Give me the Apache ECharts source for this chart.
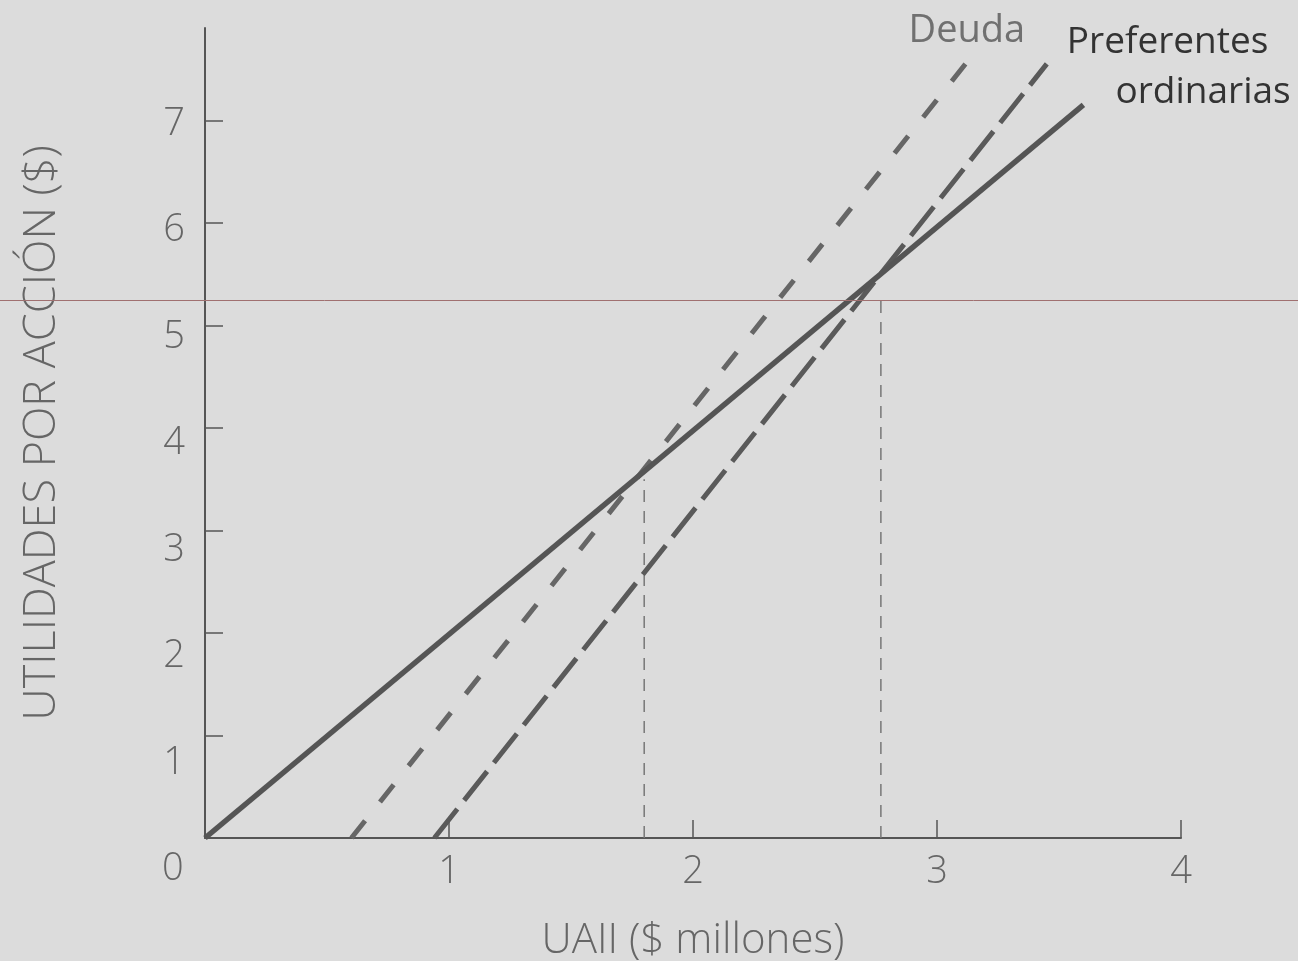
<!DOCTYPE html>
<html lang="es">
  <head>
    <meta charset="UTF-8" />
    <title>UAII - UPA</title>
    <script src="https://cdn.jsdelivr.net/npm/echarts@6/dist/echarts.min.js"></script>
    <style>
      html, body { margin: 0; padding: 0; background: #dcdcdc; }
    </style>
  </head>
  <body>
    <div id="chart" style="width: 1298px; height: 961px"></div>

    <script>
      // datos: [UAII ($ millones), UPA ($)]
      var ordinarias = [[0, 0], [3.6, 7.15]];
      var deuda = [[0.6, 0], [3.15, 7.65]];
      var preferentes = [[0.94, 0], [3.45, 7.55]];
      // puntos de indiferencia (lineas verticales)
      var indifX = [1.8, 2.77];
      var indifY = [3.5, 5.3];
      var xTicks = [1, 2, 3, 4];
      var yTicks = [1, 2, 3, 4, 5, 6, 7];

      var font = "'Open Sans', 'Liberation Sans', sans-serif";
      var myChart = echarts.init(document.getElementById("chart"));

      var guides = indifX.map(function (x, i) {
        return {
          type: "line",
          data: [[x, 0], [x, indifY[i]]],
          symbol: "none",
          silent: true,
          lineStyle: { color: "#777", width: 1.5, type: [12, 9] },
          z: 1,
        };
      });

      var option = {
        backgroundColor: "#dcdcdc",
        animation: false,
        grid: { left: 205, right: 117, top: 28, bottom: 123, outerBoundsMode: "none" },
        xAxis: {
          type: "value",
          min: 0,
          max: 4,
          interval: 1,
          name: "UAII ($ millones)",
          nameLocation: "middle",
          nameGap: 82,
          nameTextStyle: { fontFamily: font, fontSize: 42, fontWeight: 300, color: "#666", verticalAlign: "top" },
          splitLine: { show: false },
          axisLine: { lineStyle: { color: "#555", width: 2 } },
          axisTick: { inside: true, length: 18, lineStyle: { color: "#555", width: 1.5 }, customValues: xTicks },
          axisLabel: { customValues: xTicks, margin: 15, fontFamily: font, fontSize: 38, fontWeight: 300, color: "#666" },
        },
        yAxis: [
          {
            type: "value",
            min: 0,
            max: 7.9,
            interval: 1,
            name: "UTILIDADES POR ACCIÓN ($)",
            nameLocation: "middle",
            nameGap: 140,
            nameTextStyle: { fontFamily: font, fontSize: 45, fontWeight: 300, color: "#666" },
            splitLine: { show: false },
            axisLine: { show: true, lineStyle: { color: "#555", width: 2 } },
            axisTick: { inside: true, length: 18, lineStyle: { color: "#555", width: 1.5 }, customValues: yTicks },
            axisLabel: { show: false },
          },
          {
            // eje solo para las etiquetas (en la figura original estan algo desplazadas)
            type: "value",
            position: "left",
            min: 0.296,
            max: 7.902,
            splitLine: { show: false },
            axisLine: { show: false },
            axisTick: { show: false },
            axisLabel: { customValues: yTicks, margin: 20, fontFamily: font, fontSize: 38, fontWeight: 300, color: "#666" },
          },
        ],
        graphic: [
          {
            type: "text",
            left: 162,
            top: 850,
            style: { text: "0", font: "300 38px " + font, fill: "#666" },
          },
          {
            type: "line",
            shape: { x1: 0, y1: 300.5, x2: 1298, y2: 300.5 },
            style: { stroke: "#a07070", lineWidth: 1 },
            z: 100,
          },
        ],
        series: [
          {
            name: "ordinarias",
            type: "line",
            data: ordinarias,
            symbol: "none",
            lineStyle: { color: "#555", width: 5.5 },
            endLabel: {
              show: true,
              formatter: "ordinarias",
              offset: [24, -12],
              fontFamily: font,
              fontSize: 37,
              color: "#333",
            },
            z: 3,
          },
          {
            name: "Deuda",
            type: "line",
            data: deuda,
            symbol: "none",
            lineStyle: { color: "#666", width: 5, type: [22, 24] },
            endLabel: {
              show: true,
              formatter: "Deuda",
              offset: [-73, -22],
              fontFamily: font,
              fontSize: 38,
              color: "#707070",
            },
            z: 2,
          },
          {
            name: "Preferentes",
            type: "line",
            data: preferentes,
            symbol: "none",
            lineStyle: { color: "#5a5a5a", width: 5, type: [37, 11] },
            endLabel: {
              show: true,
              formatter: "Preferentes",
              offset: [12, -21],
              fontFamily: font,
              fontSize: 37,
              color: "#333",
            },
            z: 2,
          },
        ].concat(guides),
      };

      myChart.setOption(option);
    </script>
  </body>
</html>
